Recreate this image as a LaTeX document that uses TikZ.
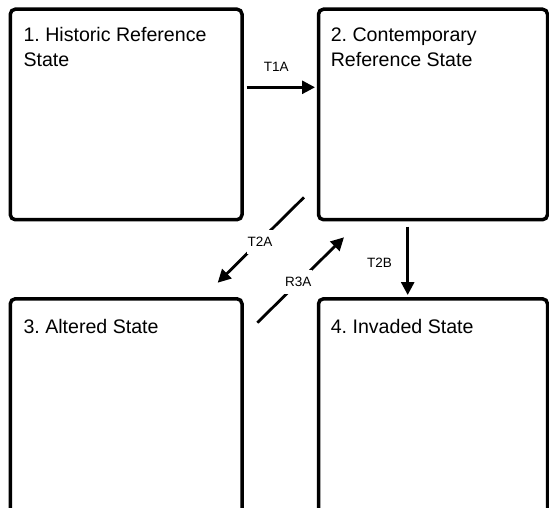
\documentclass[tikz,border=0pt]{standalone}
\usepackage{fontspec}
\setmainfont{Liberation Sans}
\usetikzlibrary{arrows.meta}
\frenchspacing
\begin{document}
\begin{tikzpicture}[x=1pt,y=-1pt,
  statebox/.style={draw, line width=3.5pt, rounded corners=5pt, inner sep=0pt},
  statetext/.style={anchor=base west, align=left, inner sep=0pt, font=\fontsize{19.6}{25}\selectfont},
  conn/.style={line width=2.8pt, -{Triangle[length=13pt,width=13pt]}},
  lab/.style={font=\fontsize{13.5}{15}\selectfont, inner sep=1pt},
  gaplab/.style={lab, fill=white, minimum height=24pt, minimum width=25pt}]
\useasboundingbox (0,0) rectangle (549,507);
\clip (0,0) rectangle (549,507);
% boxes
\node[statebox, minimum width=231.7pt, minimum height=210.5pt] (b1) at (126.15,114.45) {};
\node[statebox, minimum width=229pt, minimum height=210.5pt] (b2) at (433,114.45) {};
\node[statebox, minimum width=231.7pt, minimum height=221.2pt] (b3) at (126.15,409.4) {};
\node[statebox, minimum width=229pt, minimum height=221.2pt] (b4) at (433,409.4) {};
% texts (base anchor = baseline of last line)
\node[statetext] (s1) at (23.3,66.7) {1. Historic Reference\\State};
\node[statetext] (s2) at (330.6,66.7) {2. Contemporary\\Reference State};
\node[statetext] (s3) at (23.3,333) {3. Altered State};
\node[statetext] (s4) at (330.6,333) {4. Invaded State};
% connector end points
\coordinate (t1s) at (246.7,87.3);
\coordinate (t1e) at (315,87.3);
\coordinate (t2s) at (304,197.3);
\coordinate (t2e) at (217.7,282.7);
\coordinate (r3s) at (257.3,322.7);
\coordinate (r3e) at (344,237.3);
\coordinate (tbs) at (407.7,226.7);
\coordinate (tbe) at (407.7,295);
% connectors
\draw[conn] (t1s) -- (t1e);
\draw[conn] (t2s) -- (t2e);
\draw[conn] (r3s) -- (r3e);
\draw[conn] (tbs) -- (tbe);
% labels
\node[lab] (l1) at (276.3,67) {T1A};
\node[gaplab] (l2) at (260,242) {T2A};
\node[gaplab] (l3) at (298.3,281.8) {R3A};
\node[lab] (l4) at (379.5,262.7) {T2B};
\end{tikzpicture}
\end{document}
